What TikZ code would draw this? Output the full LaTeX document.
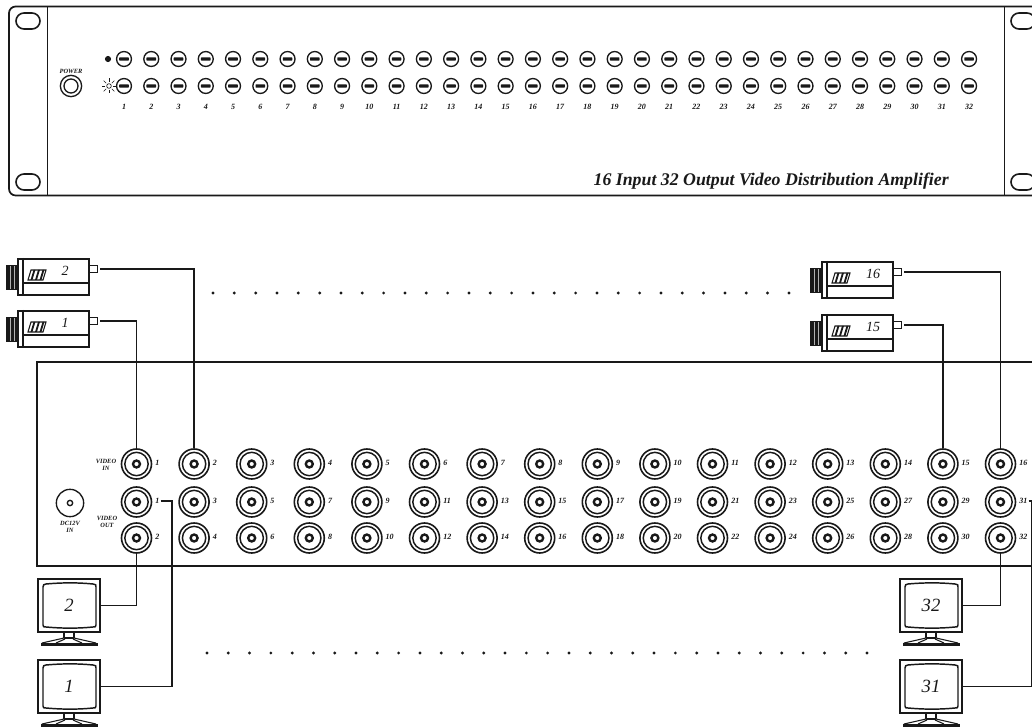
\documentclass[tikz,border=0pt]{standalone}
\usepackage{fontspec}
\setmainfont{Liberation Serif}
\usetikzlibrary{shapes.misc}
\definecolor{ink}{gray}{0.1}
\tikzset{
 x=0.75pt,y=-0.75pt,
 line/.style={draw=ink,line width=1.1pt},
 thin line/.style={draw=ink,line width=0.8pt},
 wire/.style={draw=ink,line width=1pt},
 hole/.style={rounded rectangle,draw=ink,line width=1.2pt,minimum width=18pt,minimum height=12pt,inner sep=0pt},
 knob/.style={circle,draw=ink,line width=1pt,minimum size=11.2pt,inner sep=0pt},
 num/.style={font=\bfseries\itshape\fontsize{6}{6}\selectfont,text=ink,inner sep=0pt},
 tiny label/.style={font=\bfseries\itshape\fontsize{4.8}{5}\selectfont,text=ink,inner sep=0pt,align=center},
 bnc/.style={circle,draw=ink,line width=1.2pt,minimum size=22.5pt,inner sep=0pt},
 bnc ring/.style={circle,draw=ink,line width=1.1pt,minimum size=17.5pt,inner sep=0pt},
 bnc pin/.style={circle,draw=ink,line width=1.8pt,minimum size=5.2pt,inner sep=0pt},
 port/.style={rectangle,draw=ink,line width=1pt,minimum width=6pt,minimum height=5pt,inner sep=0pt},
 screen/.style={rectangle,draw=ink,line width=1.1pt,minimum width=46.5pt,minimum height=39.5pt,inner sep=0pt},
 dotmark/.style={circle,fill=ink,minimum size=2.4pt,inner sep=0pt},
}
\newcommand{\camunit}[5]{%
 \begin{scope}[shift={(#1,#2)}]
  \fill[ink] (-12,6) rectangle (0,31);
  \foreach \s in {-8.5,-4}{\fill[white!70!black] (\s,7) rectangle (\s+0.7,30);}
  \draw[line] (0,0) rectangle (71,36);
  \draw[line,line width=1.7pt] (5,-1) -- (5,37);
  \draw[line] (5,24) -- (71,24);
  \draw[thin line,fill=white] (10,21) -- (13,11) -- (28,11) -- (25,21) -- cycle;
  \foreach \s in {14,18.5,23}{\fill[ink] (\s-1.5,21) -- (\s+1.5,11) -- (\s+3.4,11) -- (\s+0.4,21) -- cycle;}
  \node[font=\itshape\fontsize{10.5}{10.5}\selectfont,text=ink,inner sep=0pt] (#4t) at (#5,12) {#3};
  \node[port] (#4) at (75.5,10) {};
 \end{scope}}
\newcommand{\monunit}[4]{%
 \begin{scope}[shift={(#1,#2)}]
  \node[screen] (#4) at (31,26.5) {};
  \draw[line] (8,5) .. controls (25,3.5) and (40,3.5) .. (55,5) .. controls (58,5) and (58,6) .. (58,8) -- (58,46)
     .. controls (58,48) and (57,48) .. (55,48) .. controls (40,49.5) and (25,49.5) .. (8,48)
     .. controls (6,48) and (5,48) .. (5,46) -- (5,8) .. controls (5,6) and (6,5) .. (8,5) -- cycle;
  \node[font=\itshape\fontsize{14}{14}\selectfont,text=ink,inner sep=0pt] (#4t) at (31,26) {#3};
  \draw[thin line] (26,53) -- (26,59) (36,53) -- (36,59) (26,59) -- (36,59);
  \draw[thin line] (26,59) -- (4,64) (36,59) -- (58,64);
  \draw[thin line] (18,64) -- (27,60) (44,64) -- (35,60);
  \fill[ink] (3,63.5) rectangle (60,66.5);
 \end{scope}}
\begin{document}
\begin{tikzpicture}
\useasboundingbox (0,0) rectangle (1032,727);
\clip (0,0) rectangle (1032,727);
\fill[white] (0,0) rectangle (1032,727);
% front panel
\draw[line,line width=1.3pt,rounded corners=5pt] (1040,6.5) -- (9,6.5) -- (9,195.5) -- (1040,195.5);
\draw[line] (47.5,6.5) -- (47.5,195.5) (1004.5,6.5) -- (1004.5,195.5);
\node[hole] (h1) at (28,21) {};
\node[hole] (h2) at (28,182) {};
\node[hole] (h3) at (1023,21) {};
\node[hole] (h4) at (1023,182) {};
\node[circle,draw=ink,line width=1pt,minimum size=16pt,inner sep=0pt] (pw) at (71,86) {};
\node[circle,draw=ink,line width=1pt,minimum size=10.5pt,inner sep=0pt] at (71,86) {};
\node[tiny label] (pwl) at (71,71) {POWER};
\node[circle,fill=ink,minimum size=4.6pt,inner sep=0pt] (led) at (108,59) {};
\node[circle,draw=ink,line width=0.5pt,minimum size=3.5pt,inner sep=0pt] (sun) at (109,86) {};
\foreach \a in {0,45,...,315}{\draw[ink,line width=0.5pt] (sun) ++(\a:4) -- ++(\a:3.5);}
\foreach \i in {1,...,32}{
  \pgfmathsetmacro{\bx}{124+(\i-1)*27.26}
  \node[knob] (ka\i) at (\bx,59) {};
  \node[knob] (kb\i) at (\bx,86) {};
  \fill[ink,rounded corners=0.5pt] (\bx-4.8,57.3) rectangle (\bx+4.8,60.7);
  \fill[ink,rounded corners=0.5pt] (\bx-4.8,84.3) rectangle (\bx+4.8,87.7);
  \node[num] (kl\i) at (\bx,107) {\i};
}
\node[font=\bfseries\itshape\fontsize{13.35}{14}\selectfont,text=ink,anchor=east,inner sep=0pt] (ttl) at (949,181) {16 Input 32 Output Video Distribution Amplifier};
% dots
\foreach \i in {0,...,27}{\node[dotmark] (dt\i) at (213+\i*21.33,293) {};}
\foreach \i in {0,...,31}{\node[dotmark] (db\i) at (207+\i*21.29,653) {};}
% rear panel
\draw[line,line width=1.2pt] (1040,362) -- (37,362) -- (37,566) -- (1040,566);
% connectors
\foreach \i in {1,...,16}{
  \pgfmathsetmacro{\cx}{136.5+(\i-1)*57.6}
  \pgfmathtruncatemacro{\mid}{2*\i-1}
  \pgfmathtruncatemacro{\low}{2*\i}
  \foreach \r/\ry/\t in {a/464/\i,b/502/\mid,c/538/\low}{
    \node[bnc] (\r\i) at (\cx,\ry) {};
    \node[bnc ring] at (\cx,\ry) {};
    \node[bnc pin] at (\cx,\ry) {};
    \node[num,anchor=west] (l\r\i) at (\cx+18.5,\ry-1) {\t};
  }
}
\node[circle,draw=ink,line width=1pt,minimum size=20.5pt,inner sep=0pt] (dc) at (70,503) {};
\node[circle,draw=ink,line width=1pt,minimum size=4pt,inner sep=0pt] at (70,503) {};
\node[tiny label] (dcl) at (70,527) {DC12V\\IN};
\node[tiny label] (vin) at (106,465) {VIDEO\\IN};
\node[tiny label] (vout) at (107,522) {VIDEO\\OUT};
% cameras
\camunit{18}{259}{2}{cam2}{47}
\camunit{18}{311}{1}{cam1}{47}
\camunit{822}{262}{16}{cam16}{51}
\camunit{822}{315}{15}{cam15}{51}
% monitors
\monunit{38}{579}{2}{m2}
\monunit{38}{660}{1}{m1}
\monunit{900}{579}{32}{m32}
\monunit{900}{660}{31}{m31}
% wires
\draw[wire,shorten <=1.5pt] (cam2.east) -| (a2.north);
\draw[wire,shorten <=1.5pt] (cam1.east) -| (a1.north);
\draw[wire,shorten <=1.5pt] (cam16.east) -| (a16.north);
\draw[wire,shorten <=1.5pt] (cam15.east) -| (a15.north);
\draw[wire] (m2.east) -| (c1.south);
\draw[wire] (m32.east) -| (c16.south);
\coordinate (j1) at (172,501);
\coordinate (j2) at (1031.5,501);
\draw[wire] (lb1.east) ++(1,0) -- (j1) -- (j1 |- m1.east) -- (m1.east);
\draw[wire] (lb16.east) ++(1,0) -- (j2) -- (j2 |- m31.east) -- (m31.east);
\end{tikzpicture}
\end{document}
